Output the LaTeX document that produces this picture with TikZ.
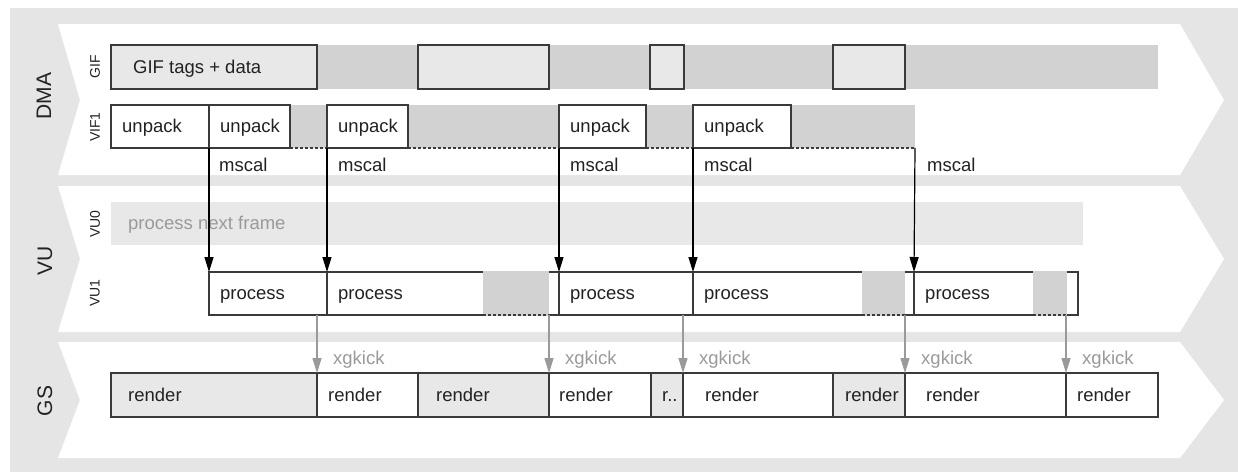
\documentclass[tikz,border=0pt]{standalone}
\usepackage{fontspec}
\setmainfont{Liberation Sans}
\usetikzlibrary{arrows.meta,calc}

\definecolor{frameg}{HTML}{E5E5E5}
\definecolor{idleg}{HTML}{D2D2D2}
\definecolor{paleg}{HTML}{E8E8E8}
\definecolor{edgec}{HTML}{3A3A3A}
\definecolor{dimtext}{HTML}{9A9A9A}
\definecolor{inkc}{HTML}{222222}

% a cell of the timeline: name, left, right, top, bottom, style
\newcommand\cell[6]{%
  \node[#6, anchor=north west, minimum width={#3-#2}, minimum height={#5-#4}] (#1) at (#2,#4) {};}

\tikzset{
  cellbox/.style={draw=edgec, line width=1.2pt, fill=white, inner sep=0pt, outer sep=0pt},
  palebox/.style={cellbox, fill=paleg},
  idle/.style={fill=idleg, draw=none, inner sep=0pt, outer sep=0pt},
  palebar/.style={fill=paleg, draw=none, inner sep=0pt, outer sep=0pt},
  lbl/.style={font=\fontsize{18.5}{20}\selectfont, text=inkc, inner sep=0pt, anchor=base west},
  dimlbl/.style={lbl, text=dimtext},
  lane/.style={font=\fontsize{14}{16}\selectfont, text=inkc, rotate=90, inner sep=0pt},
  unit/.style={font=\fontsize{21}{24}\selectfont, text=inkc, rotate=90, inner sep=0pt},
  call/.style={-{Triangle[length=15pt,width=9pt]}, line width=1.2pt, draw=black},
  kick/.style={-{Triangle[length=15pt,width=9pt]}, line width=1.2pt, draw=dimtext},
  idleline/.style={draw=edgec, line width=1.5pt, dash pattern=on 3pt off 2pt},
}

\begin{document}
\begin{tikzpicture}[x=1pt, y=-1pt]
\useasboundingbox (0,0) rectangle (1238,472);

% frame and the three unit bands
\fill[frameg] (10,8) rectangle (1238,472);
\fill[white] (58,24) -- (1180,24) -- (1224,100) -- (1180,175) -- (58,175) -- (80,100) -- cycle;
\fill[white] (58,186) -- (1180,186) -- (1224,259) -- (1180,332) -- (58,332) -- (80,259) -- cycle;
\fill[white] (58,342) -- (1180,342) -- (1224,400) -- (1180,458) -- (58,458) -- (80,400) -- cycle;

% unit and lane labels
\node[unit] (dma) at (44,96) {DMA};
\node[unit] (vu) at (45,261) {VU};
\node[unit] (gs) at (45,401) {GS};
\node[lane] (lgif) at (95,67) {GIF};
\node[lane] (lvif) at (95,127) {VIF1};
\node[lane] (lvu0) at (95,224) {VU0};
\node[lane] (lvu1) at (95,293) {VU1};

% GIF lane
\cell{gifbar}{317}{1158}{45}{89}{idle}
\cell{gif1}{111}{317}{45}{89}{palebox}
\cell{gif2}{418}{549}{45}{89}{palebox}
\cell{gif3}{650}{684}{45}{89}{palebox}
\cell{gif4}{833}{905}{45}{89}{palebox}
\node[lbl] (tgif1) at ($(gif1.west)+(22,6)$) {GIF tags + data};

% VIF1 lane
\cell{vg1}{290}{327}{105}{148}{idle}
\cell{vg2}{408}{559}{105}{148}{idle}
\cell{vg3}{646}{693}{105}{148}{idle}
\cell{vg4}{791}{915}{105}{148}{idle}
\foreach \g in {vg1,vg2,vg3,vg4}
  \draw[idleline] (\g.south west) -- (\g.south east);
\cell{u1}{111}{209}{105}{148}{cellbox}
\cell{u2}{209}{290}{105}{148}{cellbox}
\cell{u3}{327}{408}{105}{148}{cellbox}
\cell{u4}{559}{646}{105}{148}{cellbox}
\cell{u5}{693}{791}{105}{148}{cellbox}
\foreach \u in {u1,u2,u3,u4,u5}
  \node[lbl] (t\u) at ($(\u.west)+(11,6)$) {unpack};

% VU0 lane
\cell{vu0bar}{111}{1083}{202}{245}{palebar}
\node[dimlbl] (tvu0) at ($(vu0bar.west)+(17,6)$) {process next frame};

% VU1 lane
\cell{p1}{209}{327}{272}{315}{cellbox}
\cell{p2}{327}{559}{272}{315}{cellbox}
\cell{p3}{559}{693}{272}{315}{cellbox}
\cell{p4}{693}{914}{272}{315}{cellbox}
\cell{p5}{914}{1078}{272}{315}{cellbox}
\cell{q1}{483}{549}{271.2}{315.8}{idle}
\cell{q2}{862}{905}{271.2}{315.8}{idle}
\cell{q3}{1033}{1067}{271.2}{315.8}{idle}
\foreach \q in {q1,q2,q3}
  \draw[idleline] ($(\q.south west)+(0,-0.8)$) -- ($(\q.south east)+(0,-0.8)$);
\foreach \p in {p1,p2,p3,p4,p5}
  \node[lbl] (t\p) at ($(\p.west)+(11,5.5)$) {process};

% mscal calls from VIF1 into VU1
\coordinate (m5) at (vg4.south east);
\draw[call] (u2.south west) -- (p1.north west);
\draw[call] (u3.south west) -- (p2.north west);
\draw[call] (u4.south west) -- (p3.north west);
\draw[call] (u5.south west) -- (p4.north west);
\draw[call] (m5) -- (p5.north west);
\node[lbl] (ms1) at ($(u2.south west)+(10,23)$) {mscal};
\node[lbl] (ms2) at ($(u3.south west)+(11,23)$) {mscal};
\node[lbl] (ms3) at ($(u4.south west)+(11,23)$) {mscal};
\node[lbl] (ms4) at ($(u5.south west)+(11,23)$) {mscal};
\node[lbl] (ms5) at ($(m5)+(12,23)$) {mscal};

% GS lane
\cell{r1}{111}{317}{373}{417}{palebox}
\cell{r2}{317}{418}{373}{417}{cellbox}
\cell{r3}{418}{549}{373}{417}{palebox}
\cell{r4}{549}{651}{373}{417}{cellbox}
\cell{r5}{651}{683}{373}{417}{palebox}
\cell{r6}{683}{833}{373}{417}{cellbox}
\cell{r7}{833}{905}{373}{417}{palebox}
\cell{r8}{905}{1066}{373}{417}{cellbox}
\cell{r9}{1066}{1158}{373}{417}{cellbox}
\node[lbl] (tr1) at ($(r1.west)+(17,6.5)$) {render};
\node[lbl] (tr2) at ($(r2.west)+(11,6.5)$) {render};
\node[lbl] (tr3) at ($(r3.west)+(18,6.5)$) {render};
\node[lbl] (tr4) at ($(r4.west)+(10,6.5)$) {render};
\node[lbl] (tr5) at ($(r5.west)+(11,6.5)$) {r..};
\node[lbl] (tr6) at ($(r6.west)+(22,6.5)$) {render};
\node[lbl] (tr7) at ($(r7.west)+(12,6.5)$) {render};
\node[lbl] (tr8) at ($(r8.west)+(21,6.5)$) {render};
\node[lbl] (tr9) at ($(r9.west)+(11,6.5)$) {render};

% xgkick from VU1 into GS
\foreach \r in {r2,r4,r6,r8,r9}{
  \draw[kick] (\r.north west |- p1.south) -- (\r.north west);
  \node[dimlbl] (k\r) at ($(\r.north west)+(16,-9)$) {xgkick};
}
\end{tikzpicture}
\end{document}
